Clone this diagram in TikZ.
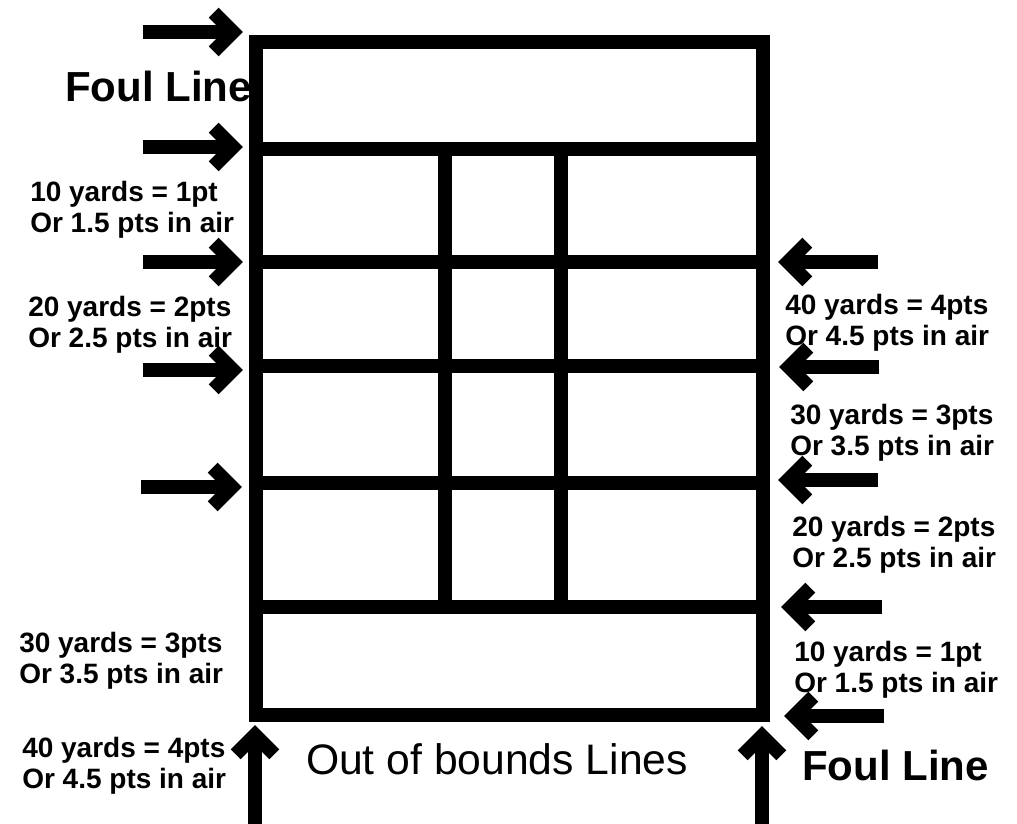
\documentclass[tikz,border=0pt]{standalone}
\usepackage{fontspec}
\setmainfont{Liberation Sans}
\usetikzlibrary{arrows.meta}

% thick open arrow head, mitred at the tip
\pgfdeclarearrow{
  name = Chevron,
  parameters = {\the\pgfarrowlinewidth,\the\pgfarrowlength,\the\pgfarrowwidth},
  setup code = {
    \pgfarrowssettipend{.71\pgfarrowlinewidth}
    \pgfarrowssetlineend{-.5\pgfarrowlength}
    \pgfarrowssetbackend{-\pgfarrowlength}
    \pgfarrowssavethe\pgfarrowlinewidth
    \pgfarrowssavethe\pgfarrowlength
    \pgfarrowssavethe\pgfarrowwidth
  },
  drawing code = {
    \pgfsetdash{}{+0pt}
    \pgfsetmiterjoin
    \pgfsetbuttcap
    \pgfsetlinewidth{\pgfarrowlinewidth}
    \pgfpathmoveto{\pgfqpoint{-\pgfarrowlength}{.5\pgfarrowwidth}}
    \pgfpathlineto{\pgfpointorigin}
    \pgfpathlineto{\pgfqpoint{-\pgfarrowlength}{-.5\pgfarrowwidth}}
    \pgfusepathqstroke
  },
  defaults = {length = 14.5pt, width = 29pt}
}

\begin{document}
\begin{tikzpicture}[x=0.75pt, y=-0.75pt,
        field/.style={line width=10.5pt, line join=miter},
        pointer/.style={line width=10pt, -{Chevron[length=14.5pt, width=29pt, line width=10.5pt]}},
        yard/.style={font=\bfseries\fontsize{21}{23.25}\selectfont, align=left, anchor=base west, inner sep=0pt},
        foul/.style={font=\bfseries\fontsize{31.5}{36}\selectfont, anchor=base west, inner sep=0pt}]
            \useasboundingbox (0, 0) rectangle (1017, 824);

            % field
            \draw[field] (256, 42) rectangle (763, 715);
            \foreach \y in {149, 262, 366, 483, 607}
                \draw[field] (256, \y) -- (763, \y);
            \draw[field] (445, 149) -- (445, 607);
            \draw[field] (561, 149) -- (561, 607);

            \coordinate (A1) at (143, 32);
            \coordinate (A2) at (143, 147);
            \coordinate (A3) at (143, 262);
            \coordinate (A4) at (143, 370);
            \coordinate (A5) at (141, 487);
            \coordinate (B1) at (243, 32);
            \coordinate (B2) at (243, 147);
            \coordinate (B3) at (243, 262);
            \coordinate (B4) at (243, 370);
            \coordinate (B5) at (242, 487);

            \coordinate (C1) at (878, 262);
            \coordinate (C2) at (879, 367);
            \coordinate (C3) at (878, 480);
            \coordinate (C4) at (882, 607);
            \coordinate (C5) at (884, 716);
            \coordinate (D1) at (778, 262);
            \coordinate (D2) at (779, 367);
            \coordinate (D3) at (778, 480);
            \coordinate (D4) at (781, 607);
            \coordinate (D5) at (784, 716);

            \coordinate (E1) at (255, 830);
            \coordinate (E2) at (762, 830);
            \coordinate (F1) at (255, 725);
            \coordinate (F2) at (762, 726);

            \draw[pointer] (A1) to (B1);
            \draw[pointer] (A2) to (B2);
            \draw[pointer] (A3) to (B3);
            \draw[pointer] (A4) to (B4);
            \draw[pointer] (A5) to (B5);
            \draw[pointer] (C1) to (D1);
            \draw[pointer] (C2) to (D2);
            \draw[pointer] (C3) to (D3);
            \draw[pointer] (C4) to (D4);
            \draw[pointer] (C5) to (D5);
            \draw[pointer] (E1) to (F1);
            \draw[pointer] (E2) to (F2);

            \node[foul] (foultop) at (65, 102) {Foul Line};
            \node[foul] (foulbottom) at (802, 780) {Foul Line};
            \node[anchor=base, inner sep=0pt, font=\fontsize{32}{36}\selectfont] (bounds) at (497, 774) {Out of bounds Lines};

            \node[yard] (left10) at (30, 232) {10 yards = 1pt\\Or 1.5 pts in air};
            \node[yard] (left20) at (28, 347) {20 yards = 2pts\\Or 2.5 pts in air};
            \node[yard] (left30) at (19, 683) {30 yards = 3pts\\Or 3.5 pts in air};
            \node[yard] (left40) at (22, 788) {40 yards = 4pts\\Or 4.5 pts in air};
            \node[yard] (right40) at (785, 345) {40 yards = 4pts\\Or 4.5 pts in air};
            \node[yard] (right30) at (790, 455) {30 yards = 3pts\\Or 3.5 pts in air};
            \node[yard] (right20) at (792, 567) {20 yards = 2pts\\Or 2.5 pts in air};
            \node[yard] (right10) at (794, 692) {10 yards = 1pt\\Or 1.5 pts in air};

        \end{tikzpicture}
\end{document}
